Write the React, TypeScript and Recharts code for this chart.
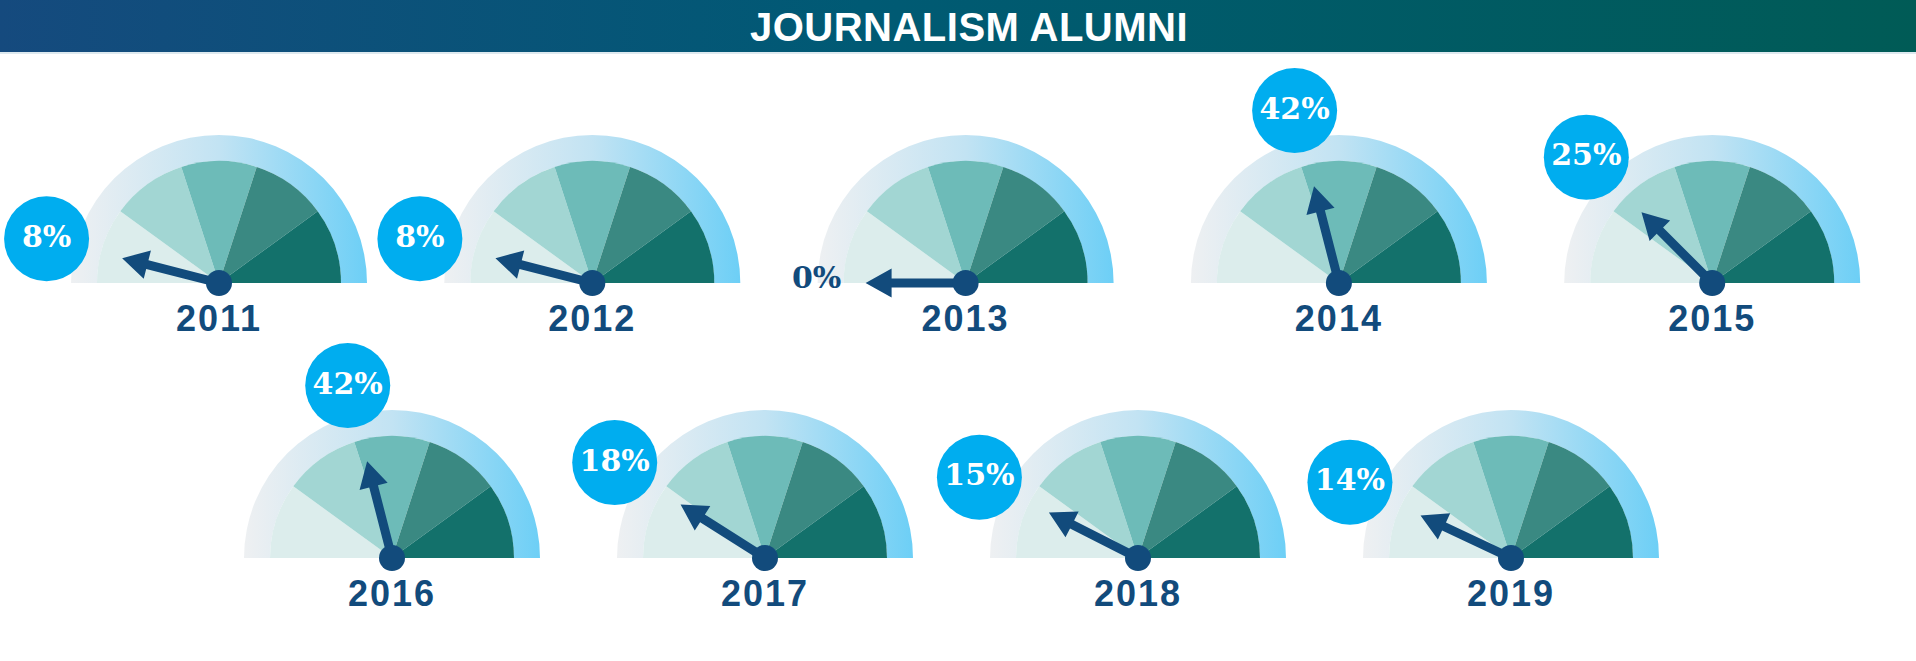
import { Cell, Pie, PieChart } from "recharts";

// one gauge per graduating year
const years = ["2011", "2012", "2013", "2014", "2015", "2016", "2017", "2018", "2019"];
const shares = [8, 8, 0, 42, 25, 42, 18, 15, 14];

// five equal wedges under the needle
const bands = ["b1", "b2", "b3", "b4", "b5"];
const bandWeights = [1, 1, 1, 1, 1];
const bandColors = ["#dcedec", "#a2d6d3", "#6dbbb8", "#3a8982", "#13716b"];

const NAVY = "#124b7c";
const RAD = Math.PI / 180;

const bandData = bands.map((b, i) => ({ name: b, v: bandWeights[i] }));

function center(i: number) {
  if (i < 5) return { x: 219 + i * 373.3, y: 283 };
  return { x: 392 + (i - 5) * 373, y: 558 };
}

const needleLabel = (year: string, share: number) => (props: any) => {
  if (props.index !== 1) return null;
  const cx = Number(props.cx);
  const cy = Number(props.cy);
  const a = (props.startAngle ?? 2 * props.midAngle) * RAD;
  const ux = Math.cos(a), uy = -Math.sin(a);
  const nx = Math.sin(a), ny = Math.cos(a);
  const w = 4.5, h = 14.5, L = 74, T = 100;
  const pt = (r: number, s: number) => `${cx + ux * r + nx * s},${cy + uy * r + ny * s}`;
  const poly = [pt(0, w), pt(L, w), pt(L, h), pt(T, 0), pt(L, -h), pt(L, -w), pt(0, -w)].join(" ");
  const bx = cx + ux * 178, by = cy + uy * 178;
  return (
    <g>
      <polygon points={poly} fill={NAVY} />
      <circle cx={cx} cy={cy} r={13} fill={NAVY} />
      {share === 0 ? (
        <text x={cx - 149} y={cy + 5} textAnchor="middle" fill={NAVY}
          fontFamily="DejaVu Serif" fontWeight={700} fontSize={30}>
          {share}%
        </text>
      ) : (
        <g>
          <circle cx={bx} cy={by} r={42.5} fill="#00adef" />
          <text x={bx} y={by + 8} textAnchor="middle" fill="#fff"
            fontFamily="DejaVu Serif" fontWeight={700} fontSize={30}>
            {share}%
          </text>
        </g>
      )}
      <text x={cx} y={cy + 48} textAnchor="middle" fill={NAVY}
        fontFamily="Liberation Sans" fontWeight={700} fontSize={36} letterSpacing={2}>
        {year}
      </text>
    </g>
  );
};

export default function App() {
  return (
    <div style={{ position: "absolute", left: 0, top: 0, width: 1916, height: 661, background: "#fff" }}>
      <PieChart width={1916} height={661} margin={{ top: 0, right: 0, bottom: 0, left: 0 }}>
        <defs>
          <linearGradient id="rim" x1="0" y1="0" x2="1" y2="0">
            <stop offset="0%" stopColor="#eef0f2" />
            <stop offset="50%" stopColor="#c2e3f3" />
            <stop offset="100%" stopColor="#6dcff6" />
          </linearGradient>
        </defs>
        {years.map((y, i) => {
          const c = center(i);
          return [
            <Pie key={`rim${y}`} data={[{ name: "rim", v: 1 }]} dataKey="v" cx={c.x} cy={c.y}
              startAngle={180} endAngle={0} innerRadius={122} outerRadius={148}
              stroke="none" fill="url(#rim)" isAnimationActive={false} />,
            <Pie key={`band${y}`} data={bandData} dataKey="v" cx={c.x} cy={c.y}
              startAngle={180} endAngle={0} innerRadius={0} outerRadius={122}
              stroke="none" isAnimationActive={false}>
              {bandData.map((d, j) => <Cell key={d.name} fill={bandColors[j]} stroke="none" />)}
            </Pie>,
            <Pie key={`needle${y}`} data={[{ name: "share", v: shares[i] }, { name: "rest", v: 100 - shares[i] }]}
              dataKey="v" cx={c.x} cy={c.y} startAngle={180} endAngle={0}
              innerRadius={0} outerRadius={10} fill="none" stroke="none"
              label={needleLabel(y, shares[i])} labelLine={false} isAnimationActive={false} />,
          ];
        })}
      </PieChart>
      <div style={{
        position: "absolute", left: 0, top: 0, width: 1916, height: 54,
        background: "linear-gradient(to right, #154a7e 0%, #005a74 45%, #005b56 100%)",
        borderBottom: "2px solid #dde9ef", boxSizing: "border-box",
        color: "#fff", fontFamily: "Liberation Sans", fontWeight: 700, fontSize: 40,
        letterSpacing: 0.5, textAlign: "center", lineHeight: "54px", paddingLeft: 22,
      }}>
        JOURNALISM ALUMNI
      </div>
    </div>
  );
}
